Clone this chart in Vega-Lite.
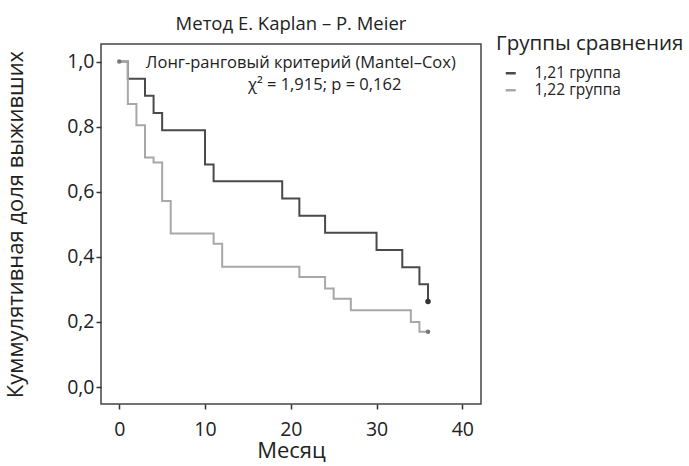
{
  "$schema": "https://vega.github.io/schema/vega-lite/v6.json",
  "width": 380,
  "height": 360,
  "autosize": {"type": "none"},
  "padding": {"left": 101, "top": 44, "right": 208, "bottom": 62},
  "background": "white",
  "title": {"text": "Метод E. Kaplan – P. Meier", "fontSize": 18.5, "font": "Open Sans", "fontWeight": "normal", "color": "#222", "anchor": "middle", "offset": 1},
  "config": {
    "view": {"stroke": "#444", "strokeWidth": 1.5},
    "font": "Open Sans",
    "axis": {"domain": false, "grid": false, "tickColor": "#333", "tickWidth": 1.5, "tickSize": 5, "labelColor": "#222", "titleColor": "#222", "labelFont": "Open Sans", "titleFont": "Open Sans", "labelFontSize": 19.5, "titleFontSize": 22, "titleFontWeight": "normal"}
  },
  "datasets": {
    "km": [
      {"group": "1,21 группа", "month": 0, "surv": 1.0},
      {"group": "1,21 группа", "month": 1, "surv": 0.947},
      {"group": "1,21 группа", "month": 3, "surv": 0.895},
      {"group": "1,21 группа", "month": 4, "surv": 0.842},
      {"group": "1,21 группа", "month": 5, "surv": 0.789},
      {"group": "1,21 группа", "month": 10, "surv": 0.684},
      {"group": "1,21 группа", "month": 11, "surv": 0.632},
      {"group": "1,21 группа", "month": 19, "surv": 0.579},
      {"group": "1,21 группа", "month": 21, "surv": 0.526},
      {"group": "1,21 группа", "month": 24, "surv": 0.474},
      {"group": "1,21 группа", "month": 30, "surv": 0.421},
      {"group": "1,21 группа", "month": 33, "surv": 0.368},
      {"group": "1,21 группа", "month": 35, "surv": 0.316},
      {"group": "1,21 группа", "month": 36, "surv": 0.263},
      {"group": "1,22 группа", "month": 0, "surv": 1.0},
      {"group": "1,22 группа", "month": 1, "surv": 0.87},
      {"group": "1,22 группа", "month": 2, "surv": 0.804},
      {"group": "1,22 группа", "month": 3, "surv": 0.705},
      {"group": "1,22 группа", "month": 4, "surv": 0.69},
      {"group": "1,22 группа", "month": 5, "surv": 0.572},
      {"group": "1,22 группа", "month": 6, "surv": 0.472},
      {"group": "1,22 группа", "month": 11, "surv": 0.44},
      {"group": "1,22 группа", "month": 12, "surv": 0.37},
      {"group": "1,22 группа", "month": 21, "surv": 0.338},
      {"group": "1,22 группа", "month": 24, "surv": 0.303},
      {"group": "1,22 группа", "month": 25, "surv": 0.271},
      {"group": "1,22 группа", "month": 27, "surv": 0.236},
      {"group": "1,22 группа", "month": 34, "surv": 0.2},
      {"group": "1,22 группа", "month": 35, "surv": 0.17},
      {"group": "1,22 группа", "month": 36, "surv": 0.17}
    ],
    "censor": [
      {"group": "1,22 группа", "month": 0, "surv": 1.0},
      {"group": "1,21 группа", "month": 36, "surv": 0.263},
      {"group": "1,22 группа", "month": 36, "surv": 0.17}
    ],
    "notes": [
      {"line": "Лонг-ранговый критерий (Mantel–Cox)", "month": 3.1, "surv": 0.996},
      {"line": "χ² = 1,915; p = 0,162", "month": 15.0, "surv": 0.928}
    ]
  },
  "layer": [
    {
      "data": {"name": "km"},
      "mark": {"type": "line", "interpolate": "step-after", "strokeWidth": 2},
      "encoding": {
        "x": {"field": "month", "type": "quantitative", "scale": {"domain": [-2.13, 42.18], "nice": false, "zero": false},
              "axis": {"values": [0, 10, 20, 30, 40], "title": "Месяц", "titlePadding": 2, "labelPadding": 11}},
        "y": {"field": "surv", "type": "quantitative", "scale": {"domain": [-0.052, 1.054], "nice": false, "zero": false},
              "axis": {"values": [0, 0.2, 0.4, 0.6, 0.8, 1.0], "labelExpr": "replace(format(datum.value, '.1f'), '.', ',')", "title": "Куммулятивная доля выживших", "titlePadding": 39, "labelPadding": 2}},
        "color": {"field": "group", "type": "nominal",
                  "scale": {"domain": ["1,21 группа", "1,22 группа"], "range": ["#4a4a4a", "#a8a8a8"]},
                  "legend": {"orient": "none", "legendX": 395, "legendY": -10, "title": "Группы сравнения", "titleFontSize": 20.5, "titleLimit": 400, "titleFontWeight": "normal", "titleColor": "#222", "titleFont": "Open Sans", "labelFont": "Open Sans", "labelFontSize": 15.5, "labelColor": "#222", "symbolType": "stroke", "symbolStrokeWidth": 2.5, "symbolSize": 100, "symbolOffset": 7, "labelOffset": 16, "rowPadding": 0, "titlePadding": 11}}
      }
    },
    {
      "data": {"name": "censor"},
      "transform": [{"filter": "datum.group === '1,21 группа'"}],
      "mark": {"type": "point", "filled": true, "size": 30, "color": "#333", "opacity": 1},
      "encoding": {"x": {"field": "month", "type": "quantitative"}, "y": {"field": "surv", "type": "quantitative"}}
    },
    {
      "data": {"name": "censor"},
      "transform": [{"filter": "datum.group === '1,22 группа'"}],
      "mark": {"type": "point", "filled": true, "size": 20, "color": "#777", "opacity": 1},
      "encoding": {"x": {"field": "month", "type": "quantitative"}, "y": {"field": "surv", "type": "quantitative"}}
    },
    {
      "data": {"name": "notes"},
      "mark": {"type": "text", "align": "left", "baseline": "middle", "fontSize": 16.5, "color": "#222", "font": "Open Sans"},
      "encoding": {"x": {"field": "month", "type": "quantitative"}, "y": {"field": "surv", "type": "quantitative"}, "text": {"field": "line"}}
    }
  ]
}
